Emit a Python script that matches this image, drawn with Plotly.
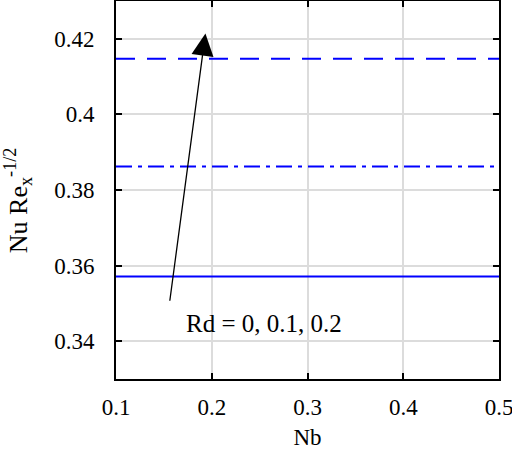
import plotly.graph_objects as go

# Nb values and Nusselt number for each Rd
nb = [0.1, 0.2, 0.3, 0.4, 0.5]
rd_labels = ["Rd = 0", "Rd = 0.1", "Rd = 0.2"]
nu_rd0 = [0.3571, 0.3571, 0.3571, 0.3571, 0.3571]
nu_rd01 = [0.3862, 0.3862, 0.3862, 0.3862, 0.3862]
nu_rd02 = [0.4147, 0.4147, 0.4147, 0.4147, 0.4147]
x_ticks = [0.1, 0.2, 0.3, 0.4, 0.5]
y_ticks = [0.34, 0.36, 0.38, 0.40, 0.42]
y_tick_text = ["0.34", "0.36", "0.38", "0.4", "0.42"]

SERIF = "Liberation Serif"

fig = go.Figure()
styles = ["solid", "16px,6px,4px,6px", "19px,12px"]
for label, vals, dash in zip(rd_labels, [nu_rd0, nu_rd01, nu_rd02], styles):
    fig.add_trace(go.Scatter(
        x=nb, y=vals, mode="lines", name=label,
        line=dict(color="#0000ff", width=2, dash=dash),
    ))

# arrow showing increasing Rd
fig.add_annotation(
    x=0.1934, y=0.4214, ax=0.156, ay=0.3503,
    xref="x", yref="y", axref="x", ayref="y",
    text="", showarrow=True, arrowhead=2, arrowsize=3.4, arrowwidth=1.3,
    arrowcolor="black",
)
fig.add_annotation(
    x=0.255, y=0.3448, xref="x", yref="y",
    text="Rd = 0, 0.1, 0.2", showarrow=False,
    font=dict(family=SERIF, size=25, color="black"),
)
# y axis title
fig.add_annotation(
    x=-0.256, y=0.473, xref="paper", yref="paper",
    xanchor="center", yanchor="middle", textangle=-90,
    text="Nu Re<sub>x</sub><sup>-1/2</sup>", showarrow=False,
    font=dict(family=SERIF, size=26, color="black"),
)

axis_style = dict(
    showline=True, linecolor="black", linewidth=2, mirror="ticks",
    ticks="inside", ticklen=6, tickwidth=1.5, tickcolor="black",
    showgrid=True, gridcolor="#dcdcdc", gridwidth=1.5,
    zeroline=False, tickfont=dict(family=SERIF, size=23, color="black"),
    automargin=False, ticklabeloverflow="allow",
)

fig.update_xaxes(
    range=[0.1, 0.5], tickvals=x_ticks, ticktext=["0.1", "0.2", "0.3", "0.4", "0.5"],
    ticklabelstandoff=6,
    title=dict(text="Nb", font=dict(family=SERIF, size=23, color="black"), standoff=12),
    **axis_style,
)
fig.update_yaxes(
    range=[0.33, 0.43], tickvals=y_ticks, ticktext=y_tick_text,
    ticklabelstandoff=15,
    **axis_style,
)

fig.update_layout(
    width=512, height=450,
    plot_bgcolor="white", paper_bgcolor="white",
    font=dict(family=SERIF, color="black"),
    showlegend=False,
    margin=dict(l=116, r=13, t=1, b=71),
)

fig.write_html("out.html", config={"displayModeBar": False},
               post_script="document.body.style.margin='0';")
